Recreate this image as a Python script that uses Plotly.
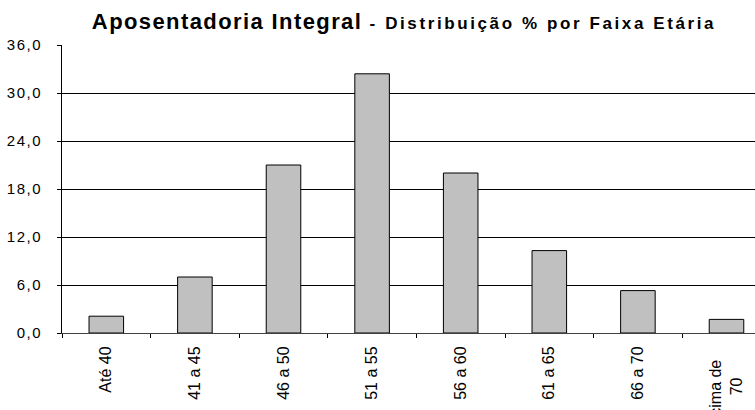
import plotly.graph_objects as go

categories = ["Até 40", "41 a 45", "46 a 50", "51 a 55", "56 a 60", "61 a 65", "66 a 70", "Acima de 70"]
values = [2.1, 7.0, 21.0, 32.4, 20.0, 10.3, 5.3, 1.7]
x_tick_labels = ["Até 40", "41 a 45", "46 a 50", "51 a 55", "56 a 60", "61 a 65", "66 a 70", "Acima de<br>70"]
y_ticks = [0, 6, 12, 18, 24, 30, 36]
y_tick_labels = ["0,0", "6,0", "12,0", "18,0", "24,0", "30,0", "36,0"]

NB = "\u00a0"
# centre the two lines of the last (multi-line) label like the original
x_ticktext = x_tick_labels[:-1] + ["Acima de" + NB * 3 + "<br>70" + NB * 7]
y_ticktext = ['<span style="letter-spacing:1.5px">%s</span>' % t for t in y_tick_labels]

fig = go.Figure()
fig.add_trace(go.Bar(
    x=categories,
    y=values,
    marker=dict(color="#C0C0C0", line=dict(color="#000000", width=1)),
    width=0.39,
    hoverinfo="x+y",
))

fig.update_layout(
    width=755,
    height=410,
    template="none",
    paper_bgcolor="white",
    plot_bgcolor="white",
    margin=dict(l=62, r=0, t=45, b=77, autoexpand=False),
    showlegend=False,
    title=dict(
        text=('<span style="letter-spacing:1.4px">Aposentadoria Integral</span>'
              '<span style="font-size:17px;letter-spacing:2.6px"> - Distribuição % por Faixa Etária</span>'),
        font=dict(family="Liberation Sans, Arial, sans-serif", size=22, color="#000000", weight="bold"),
        xref="container", x=404 / 755, xanchor="center",
        yref="container", y=1 - 21 / 410, yanchor="middle",
    ),
    xaxis=dict(
        type="category",
        range=[-0.5, -0.5 + 693 / 88.6],
        tickmode="array",
        tickvals=categories,
        ticktext=x_ticktext,
        tickangle=-90,
        tickson="boundaries",
        ticks="outside",
        ticklen=4,
        tickcolor="#000000",
        ticklabelstandoff=6,
        showline=True,
        linecolor="#404040",
        linewidth=1,
        showgrid=False,
        zeroline=False,
        automargin=False,
        tickfont=dict(family="Liberation Sans, Arial, sans-serif", size=16, color="#000000"),
    ),
    yaxis=dict(
        range=[0, 36],
        tickmode="array",
        tickvals=y_ticks,
        ticktext=y_ticktext,
        ticks="outside",
        ticklen=4,
        tickcolor="#000000",
        ticklabelstandoff=12,
        showline=True,
        linecolor="#000000",
        linewidth=1,
        showgrid=True,
        gridcolor="#000000",
        gridwidth=1,
        zeroline=False,
        automargin=False,
        tickfont=dict(family="Liberation Sans, Arial, sans-serif", size=15, color="#000000"),
    ),
)

fig.write_html("out.html", config={"displayModeBar": False},
               post_script="document.body.style.margin='0';")
